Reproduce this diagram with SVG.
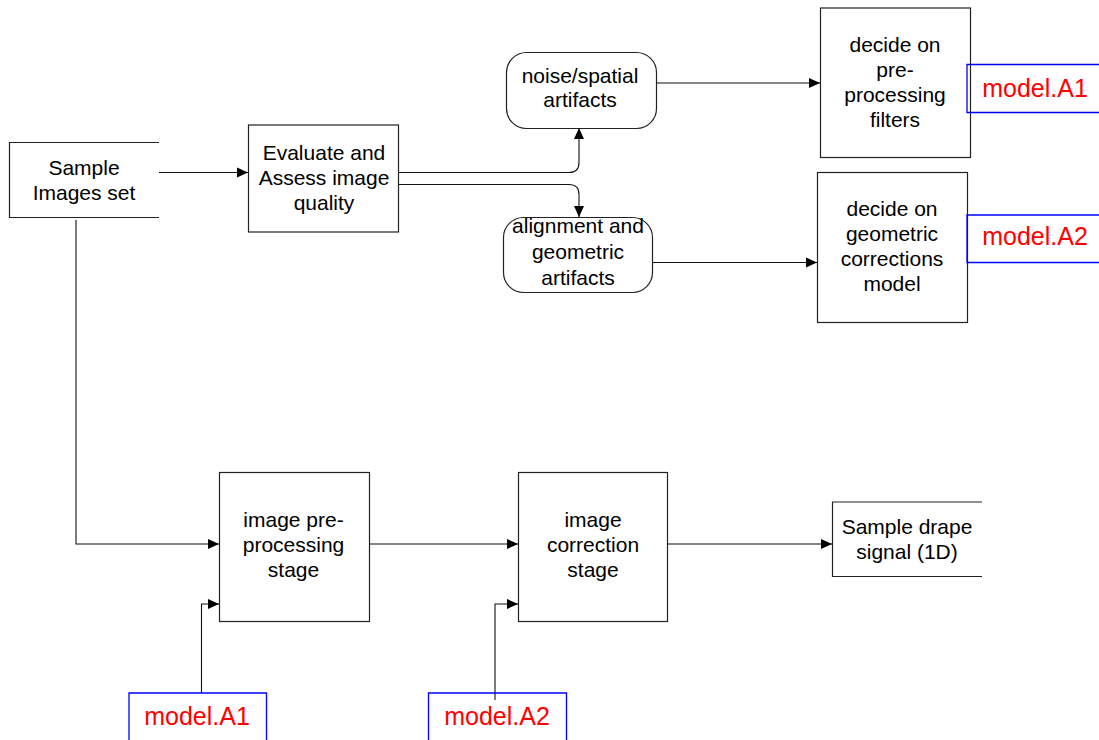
<svg xmlns="http://www.w3.org/2000/svg" width="1099" height="740" viewBox="0 0 1099 740">
<defs>
<marker id="arr" markerUnits="userSpaceOnUse" markerWidth="13" markerHeight="12" refX="12" refY="6" orient="auto">
<path d="M1,1 L12,6 L1,11 z" fill="#000"/>
</marker>
<style>
.box{fill:#fff;stroke:#222;stroke-width:1.2}
.open{fill:none;stroke:#222;stroke-width:1.2}
.mbox{fill:none;stroke:#0000ff;stroke-width:1.3}
.t{font-family:"Liberation Sans",Arial,sans-serif;font-size:21px;fill:#000;text-anchor:middle}
.m{font-family:"Liberation Sans",Arial,sans-serif;font-size:25px;fill:#ff0000;text-anchor:middle}
.c{fill:none;stroke:#111;stroke-width:1.1}
</style>
</defs>
<rect width="1099" height="740" fill="#fff"/>
<g id="connectors">
<path class="c" d="M159,172.5 H248" marker-end="url(#arr)"/>
<path class="c" d="M398,172.5 H569 Q579,172.5 579,162.5 V128" marker-end="url(#arr)"/>
<path class="c" d="M398,184.5 H569 Q579,184.5 579,194.5 V217" marker-end="url(#arr)"/>
<path class="c" d="M650,83 H820" marker-end="url(#arr)"/>
<path class="c" d="M650,262.5 H817" marker-end="url(#arr)"/>
<path class="c" d="M76,220 V544 H219" marker-end="url(#arr)"/>
<path class="c" d="M369,544 H518" marker-end="url(#arr)"/>
<path class="c" d="M201.5,693 V604 H219" marker-end="url(#arr)"/>
<path class="c" d="M495,700 V604 H518" marker-end="url(#arr)"/>
<path class="c" d="M668,544 H832" marker-end="url(#arr)"/>
</g>
<g id="sample-images">
<path class="open" d="M159,142.5 H9.5 V217.5 H159"/>
<text class="t" x="84" y="175">Sample</text>
<text class="t" x="84" y="200">Images set</text>
</g>
<g id="evaluate">
<rect class="box" x="248.5" y="125" width="150" height="107"/>
<text class="t" x="324" y="160">Evaluate and</text>
<text class="t" x="324" y="185">Assess image</text>
<text class="t" x="324" y="210">quality</text>
</g>
<g id="noise">
<rect class="box" x="506.5" y="52.5" width="150" height="76" rx="20"/>
<text class="t" x="580" y="83">noise/spatial</text>
<text class="t" x="580" y="107">artifacts</text>
</g>
<g id="alignment">
<rect class="box" x="503.5" y="217.5" width="149" height="75" rx="20"/>
<text class="t" x="578" y="233">alignment and</text>
<text class="t" x="578" y="259">geometric</text>
<text class="t" x="578" y="285">artifacts</text>
</g>
<g id="decide-filters">
<rect class="box" x="820.5" y="8" width="150" height="149.5"/>
<text class="t" x="895" y="51.5">decide on</text>
<text class="t" x="895" y="76.5">pre-</text>
<text class="t" x="895" y="101.5">processing</text>
<text class="t" x="895" y="126.5">filters</text>
</g>
<g id="decide-geometric">
<rect class="box" x="817.5" y="172.5" width="150" height="150"/>
<text class="t" x="892" y="216">decide on</text>
<text class="t" x="892" y="241">geometric</text>
<text class="t" x="892" y="266">corrections</text>
<text class="t" x="892" y="291">model</text>
</g>
<g id="model-a1-top">
<path class="mbox" d="M1100,64.5 H967 V112.5 H1100"/>
<text class="m" x="1035" y="97">model.A1</text>
</g>
<g id="model-a2-top">
<path class="mbox" d="M1100,215 H967 V262.5 H1100"/>
<text class="m" x="1035" y="245">model.A2</text>
</g>
<g id="pre-processing">
<rect class="box" x="219.5" y="472.5" width="150" height="149"/>
<text class="t" x="293.5" y="527">image pre-</text>
<text class="t" x="293.5" y="552">processing</text>
<text class="t" x="293.5" y="577">stage</text>
</g>
<g id="correction">
<rect class="box" x="518.5" y="472.5" width="149" height="149"/>
<text class="t" x="593" y="527">image</text>
<text class="t" x="593" y="552">correction</text>
<text class="t" x="593" y="577">stage</text>
</g>
<g id="drape">
<path class="open" d="M982,502 H832.5 V576.5 H982"/>
<text class="t" x="907" y="534">Sample drape</text>
<text class="t" x="907" y="559">signal (1D)</text>
</g>
<g id="model-a1-bottom">
<path class="mbox" d="M129,741 V693 H266.5 V741"/>
<text class="m" x="197" y="725">model.A1</text>
</g>
<g id="model-a2-bottom">
<path class="mbox" d="M428.5,741 V693 H566.5 V741"/>
<text class="m" x="497" y="725">model.A2</text>
</g>
</svg>
